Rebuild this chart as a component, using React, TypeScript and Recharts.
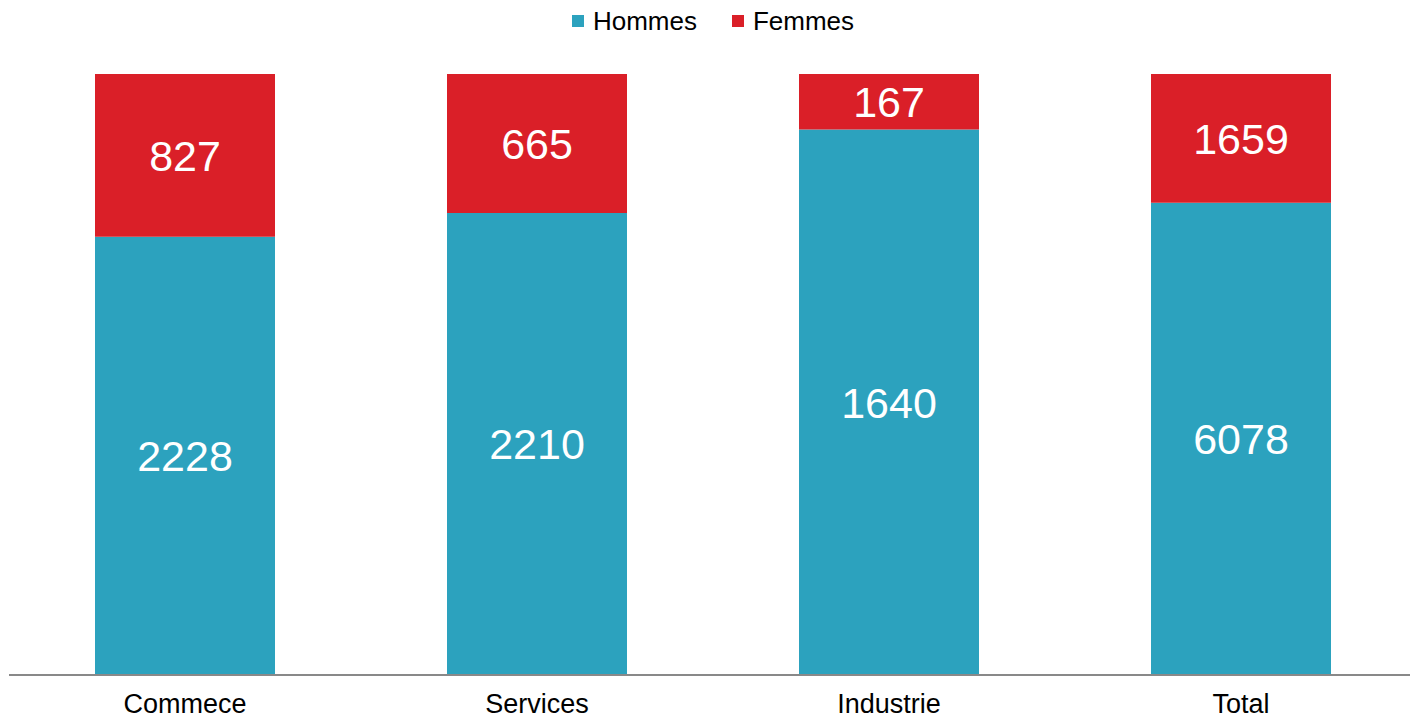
import React from "react"
import { BarChart, Bar, XAxis, YAxis, LabelList } from "recharts"

const categories = ["Commece", "Services", "Industrie", "Total"]
const hommes = [2228, 2210, 1640, 6078]
const femmes = [827, 665, 167, 1659]

const TEAL = "#2ca2be"
const RED = "#da1f28"
const FONT = "'Liberation Sans', Arial, sans-serif"

const data = categories.map((name, i) => ({
  name,
  hommes: hommes[i],
  femmes: femmes[i],
}))

const legendItems = [
  { label: "Hommes", color: TEAL },
  { label: "Femmes", color: RED },
]

function TopLegend() {
  return (
    <div
      style={{
        position: "absolute",
        top: 6,
        left: 8,
        width: 1410,
        display: "flex",
        justifyContent: "center",
        gap: 35,
        fontFamily: FONT,
        fontSize: 26,
        lineHeight: "30px",
        color: "#000",
      }}
    >
      {legendItems.map((item) => (
        <div key={item.label} style={{ display: "flex", alignItems: "center" }}>
          <span
            style={{
              display: "inline-block",
              width: 12,
              height: 12,
              background: item.color,
              marginRight: 9,
            }}
          />
          <span>{item.label}</span>
        </div>
      ))}
    </div>
  )
}

export default function App() {
  return (
    <div
      style={{
        position: "absolute",
        left: 0,
        top: 0,
        width: 1410,
        height: 719,
        overflow: "hidden",
        background: "#fff",
        fontFamily: FONT,
      }}
    >
      <BarChart
        width={1418}
        height={719}
        data={data}
        stackOffset="expand"
        barSize={180}
        margin={{ top: 74, right: 1, left: 9, bottom: 14 }}
      >
        <XAxis
          dataKey="name"
          axisLine={{ stroke: "#898989", strokeWidth: 2 }}
          tickLine={false}
          tick={{ fill: "#000", fontSize: 27 }}
          tickMargin={13}
        />
        <YAxis hide domain={[0, 1]} />
        <Bar dataKey="hommes" stackId="a" fill={TEAL} isAnimationActive={false}>
          <LabelList dataKey="hommes" position="center" fill="#fff" fontSize={43} />
        </Bar>
        <Bar dataKey="femmes" stackId="a" fill={RED} isAnimationActive={false}>
          <LabelList dataKey="femmes" position="center" fill="#fff" fontSize={43} />
        </Bar>
      </BarChart>
      <TopLegend />
    </div>
  )
}
